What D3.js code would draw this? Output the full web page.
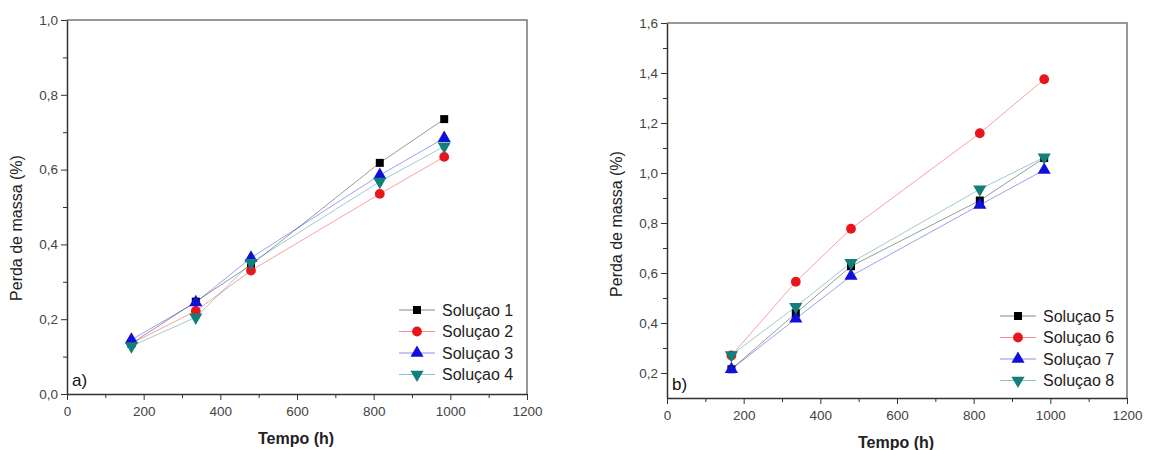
<!DOCTYPE html>
<html>
<head>
<meta charset="utf-8">
<script src="https://cdn.jsdelivr.net/npm/d3@7"></script>
<style>
  body { margin: 0; background: #fff; }
  svg { display: block; font-family: "Liberation Sans", Arial, sans-serif; }
  .tick text { fill: #444; font-size: 13.5px; }
</style>
</head>
<body>
<svg id="chart" width="1149" height="450"></svg>
<script>
// ---- data ----
const tempo = [168, 336, 480, 816, 984];

const sol1 = [0.135, 0.247, 0.345, 0.618, 0.735];
const sol2 = [0.135, 0.222, 0.330, 0.535, 0.634];
const sol3 = [0.145, 0.245, 0.364, 0.585, 0.684];
const sol4 = [0.128, 0.205, 0.351, 0.568, 0.662];

const sol5 = [0.215, 0.439, 0.627, 0.890, 1.060];
const sol6 = [0.270, 0.565, 0.777, 1.159, 1.375];
const sol7 = [0.215, 0.417, 0.588, 0.872, 1.012];
const sol8 = [0.272, 0.465, 0.641, 0.935, 1.063];

const namesA = ['Soluçao 1', 'Soluçao 2', 'Soluçao 3', 'Soluçao 4'];
const namesB = ['Soluçao 5', 'Soluçao 6', 'Soluçao 7', 'Soluçao 8'];

const colors = ['#000000', '#e8151b', '#1010d8', '#11807a'];
const shapes = [d3.symbolSquare, d3.symbolCircle, d3.symbolTriangle, 'down'];

const xTicks = [0, 200, 400, 600, 800, 1000, 1200];
const yTicksA = [0.0, 0.2, 0.4, 0.6, 0.8, 1.0];
const yTicksB = [0.2, 0.4, 0.6, 0.8, 1.0, 1.2, 1.4, 1.6];

const svg = d3.select('#chart');
const fmt = d => d3.format('.1f')(d).replace('.', ',');

function marker(g, shape, color, x, y) {
  if (shape === 'down') {
    g.append('path')
      .attr('d', d3.symbol(d3.symbolTriangle, 75)())
      .attr('transform', `translate(${x},${y}) rotate(180)`)
      .attr('fill', color);
  } else {
    const size = shape === d3.symbolSquare ? 64 : 75;
    g.append('path')
      .attr('d', d3.symbol(shape, size)())
      .attr('transform', `translate(${x},${y})`)
      .attr('fill', color);
  }
}

function panel(o) {
  const x = d3.scaleLinear().domain([0, 1200]).range([o.left, o.right]);
  const y = d3.scaleLinear().domain(o.yDomain).range([o.bottom, o.top]);
  const g = svg.append('g');

  // frame top / right
  g.append('path')
    .attr('d', `M${o.left},${o.top}H${o.right}V${o.bottom}`)
    .attr('fill', 'none').attr('stroke', '#777').attr('stroke-width', 1.5);

  // minor ticks
  const xMinor = d3.range(100, 1200, 200);
  g.append('g').attr('transform', `translate(0,${o.bottom})`)
    .call(d3.axisBottom(x).tickValues(xMinor).tickSize(4).tickFormat(''))
    .call(a => a.select('.domain').remove())
    .selectAll('line').attr('stroke', '#333');
  g.append('g').attr('transform', `translate(${o.left},0)`)
    .call(d3.axisLeft(y).tickValues(o.yMinor).tickSize(4).tickFormat(''))
    .call(a => a.select('.domain').remove())
    .selectAll('line').attr('stroke', '#333');

  // major axes
  const xa = g.append('g').attr('transform', `translate(0,${o.bottom})`)
    .call(d3.axisBottom(x).tickValues(xTicks).tickSize(6).tickSizeOuter(0)
      .tickPadding(6).tickFormat(d3.format('d')));
  const ya = g.append('g').attr('transform', `translate(${o.left},0)`)
    .call(d3.axisLeft(y).tickValues(o.yTicks).tickSize(6).tickSizeOuter(0)
      .tickPadding(3).tickFormat(fmt));
  [xa, ya].forEach(a => {
    a.selectAll('line').attr('stroke', '#333');
    a.select('.domain').attr('stroke', '#333').attr('stroke-width', 1.5);
  });

  // axis titles
  g.append('text')
    .attr('x', (o.left + o.right) / 2 - 1).attr('y', o.xTitleY)
    .attr('text-anchor', 'middle').attr('font-size', 16).attr('font-weight', 'bold')
    .attr('fill', '#222').text('Tempo (h)');
  g.append('text')
    .attr('transform', `translate(${o.yTitleX},${o.yTitleY}) rotate(-90)`)
    .attr('text-anchor', 'middle').attr('font-size', 16)
    .attr('fill', '#222').text('Perda de massa (%)');

  // panel tag
  g.append('text')
    .attr('x', o.left + 5).attr('y', o.bottom - 8)
    .attr('font-size', 17).attr('fill', '#111').text(o.tag);

  // series
  const line = d3.line().x((d, i) => x(tempo[i])).y(d => y(d));
  o.series.forEach((s, k) => {
    g.append('path').attr('d', line(s))
      .attr('fill', 'none').attr('stroke', colors[k])
      .attr('stroke-width', 0.8).attr('stroke-opacity', 0.5);
  });
  o.series.forEach((s, k) => {
    s.forEach((v, i) => marker(g, shapes[k], colors[k], x(tempo[i]), y(v)));
  });

  // legend
  o.names.forEach((n, k) => {
    const ly = o.legY + k * 21.5;
    g.append('line')
      .attr('x1', o.legX).attr('x2', o.legX + 36).attr('y1', ly).attr('y2', ly)
      .attr('stroke', colors[k]).attr('stroke-width', 0.8).attr('stroke-opacity', 0.6);
    marker(g, shapes[k], colors[k], o.legX + 18, ly);
    g.append('text')
      .attr('x', o.legX + 43).attr('y', ly).attr('dy', '0.36em')
      .attr('font-size', 16).attr('fill', '#222').text(n);
  });
}

panel({
  left: 67, right: 527, top: 20, bottom: 394,
  yDomain: [0, 1.0], yTicks: yTicksA, yMinor: d3.range(0.1, 1.0, 0.2),
  series: [sol1, sol2, sol3, sol4], names: namesA,
  legX: 399, legY: 310, tag: 'a)', xTitleY: 444, yTitleX: 22, yTitleY: 228
});

panel({
  left: 667, right: 1127, top: 23, bottom: 398,
  yDomain: [0.1, 1.6], yTicks: yTicksB, yMinor: d3.range(0.3, 1.6, 0.2),
  series: [sol5, sol6, sol7, sol8], names: namesB,
  legX: 1000, legY: 316, tag: 'b)', xTitleY: 448, yTitleX: 622, yTitleY: 224
});
</script>
</body>
</html>
